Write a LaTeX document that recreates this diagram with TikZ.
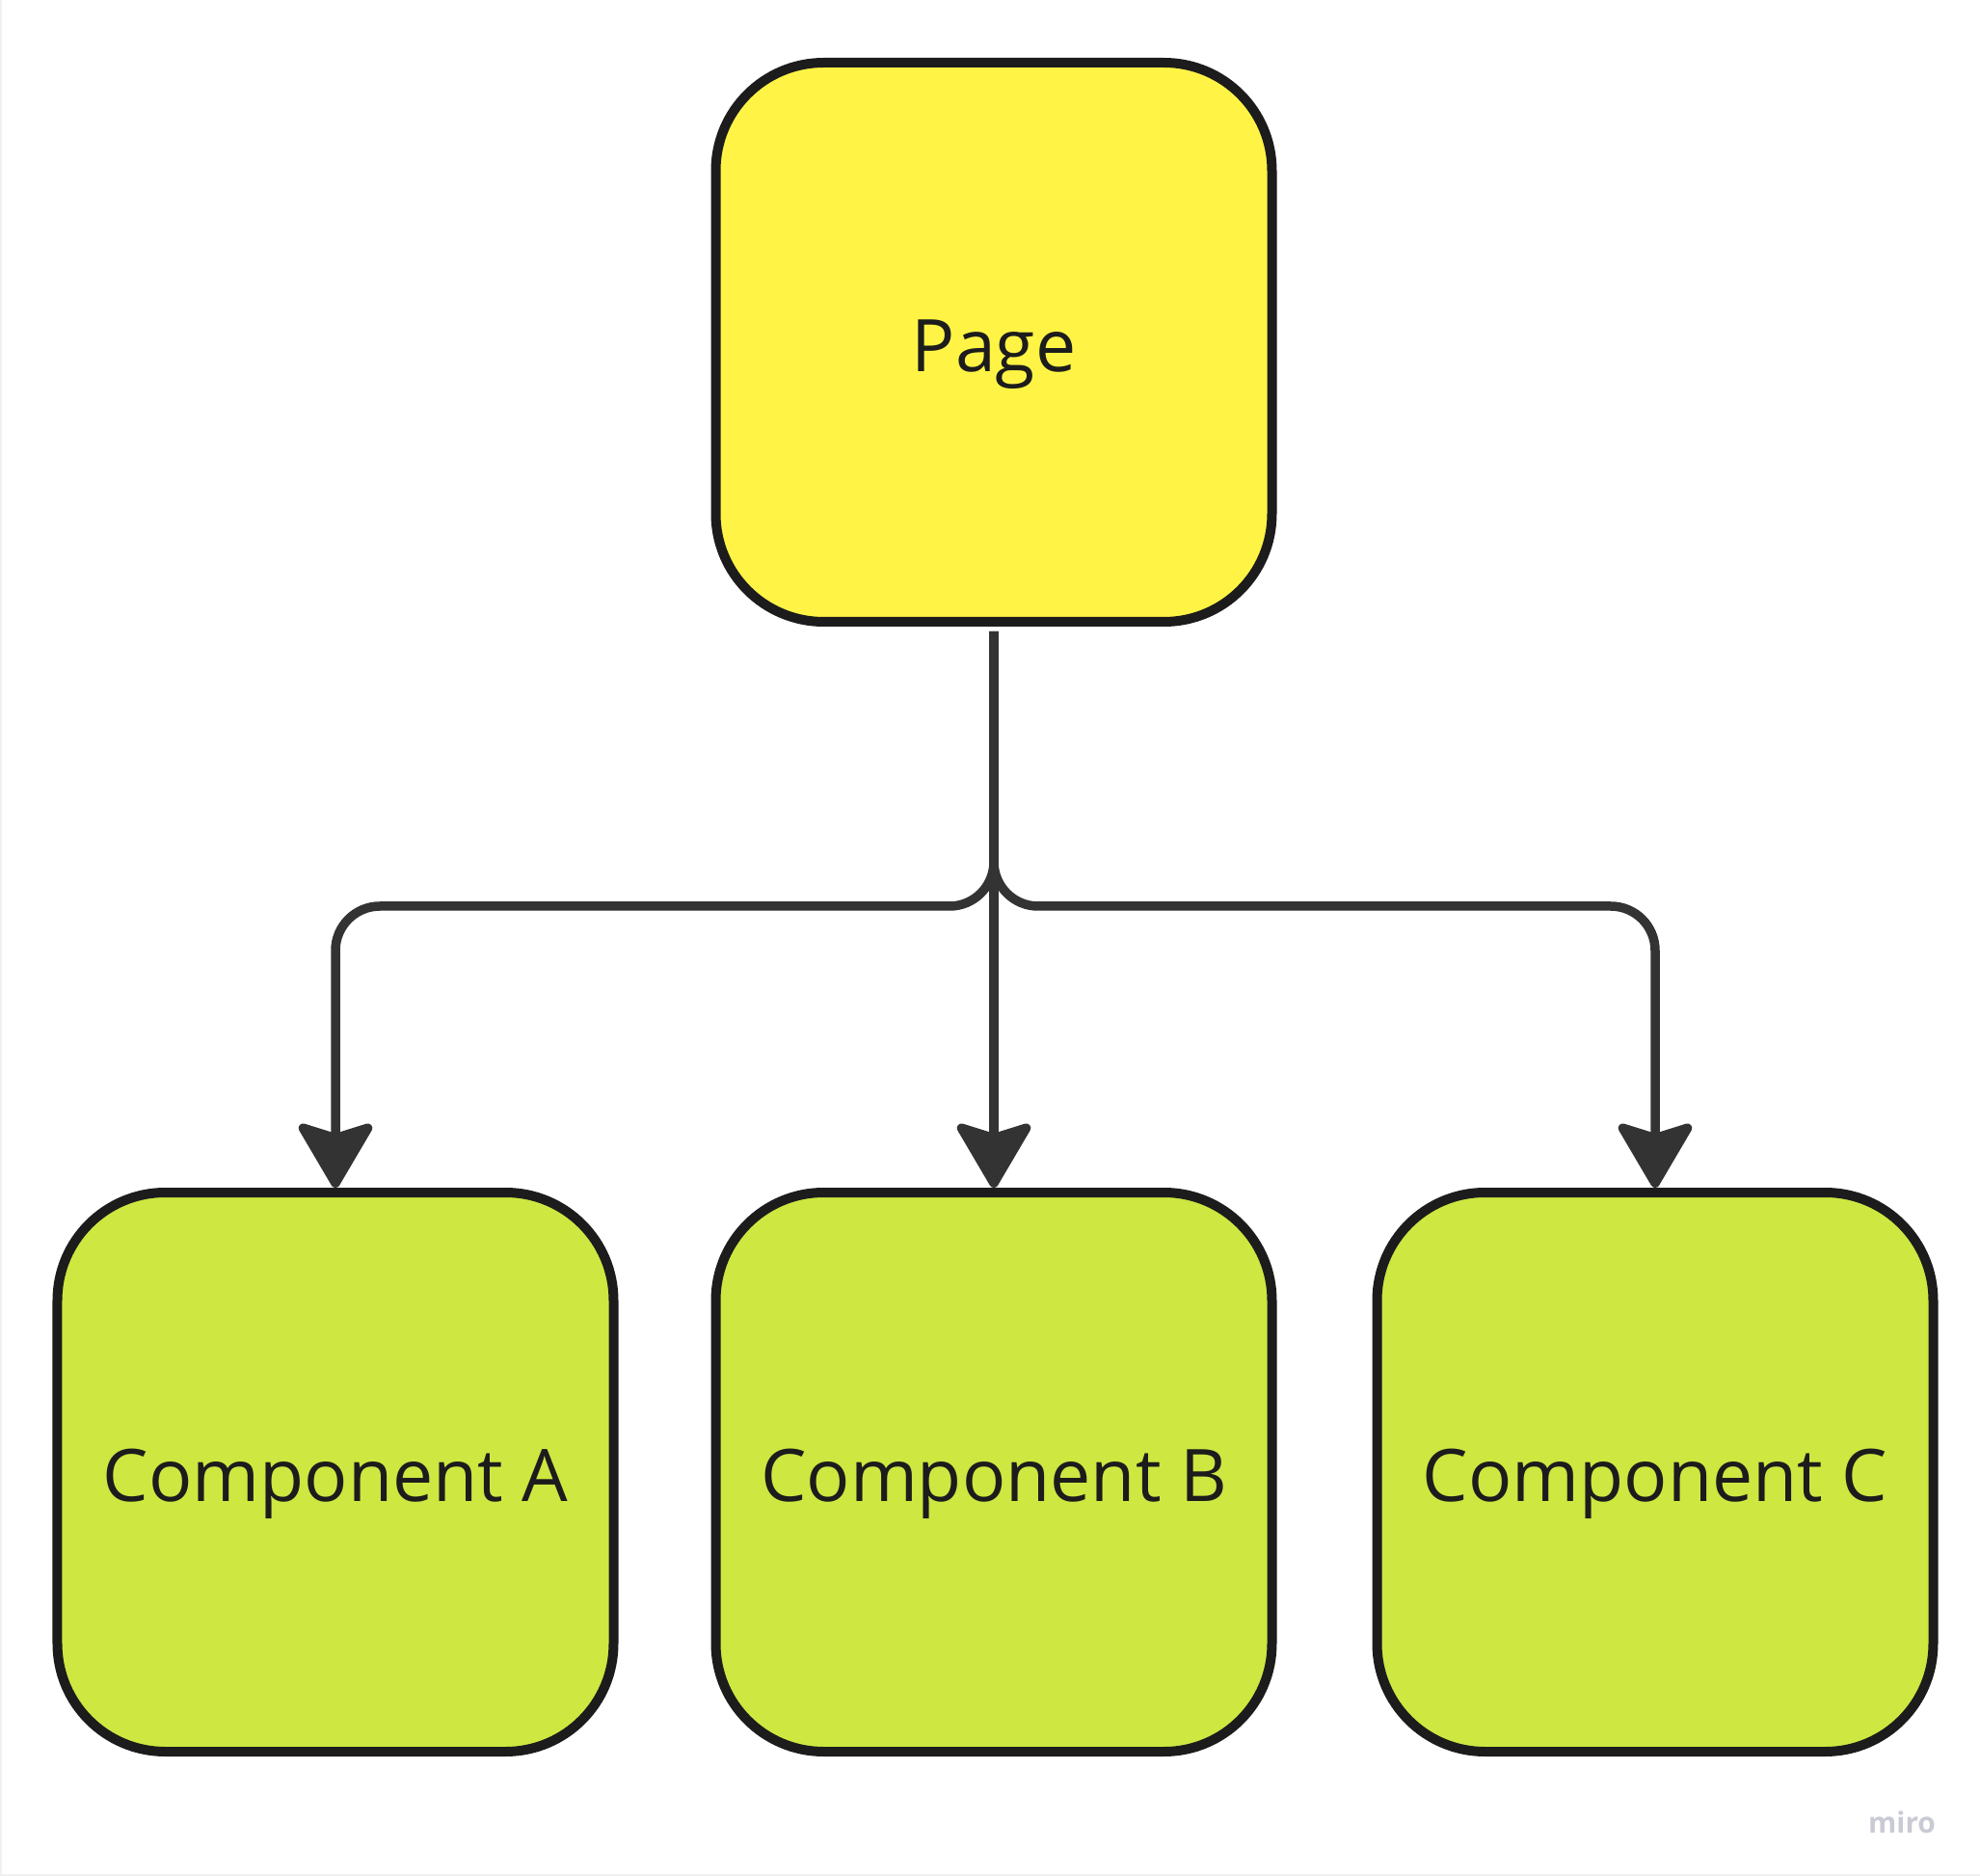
\documentclass[tikz,border=0pt]{standalone}
\usepackage{fontspec}
\setmainfont{Open Sans}
\usetikzlibrary{arrows.meta}
\usetikzlibrary{positioning}

\definecolor{pageyellow}{HTML}{FFF445}
\definecolor{complime}{HTML}{CEE741}
\definecolor{boxline}{HTML}{1C1C1C}
\definecolor{wireline}{HTML}{333333}
\definecolor{logogray}{HTML}{C9CAD3}

\begin{document}
\begin{tikzpicture}
			\tikzset{block/.style = {shape=rectangle, rounded corners=1.12cm, draw=boxline, line width=0.1cm,
					minimum width=5.77cm, minimum height=5.8cm, text=boxline,
					text height=0.8cm, text depth=0.19cm,
					font=\fontsize{21.4pt}{26pt}\selectfont}}
			\tikzset{edge/.style = {draw=wireline, line width=0.095cm, rounded corners=0.46cm,
					-{Stealth[length=0.74cm, width=0.86cm, inset=0.13cm, round]}}}
			% frame
			\useasboundingbox (0, 0) rectangle (20.54, -19.46);
			\draw[gray!12, line width=0.02cm] (0.01, 0) -- (0.01, -19.45) -- (20.54, -19.45);
			% blocks
			\node[block, fill=pageyellow] (page) at (10.31, -3.55) {Page};
			\node[block, fill=complime] (compA) at (3.48, -15.27) {Component A};
			\node[block, fill=complime] (compB) at (10.31, -15.27) {Component B};
			\node[block, fill=complime] (compC) at (17.17, -15.27) {Component C};
			\node[text=logogray, font=\fontsize{8.5pt}{10pt}\selectfont\bfseries] (logo) at (19.73, -18.90) {miro};
			% edges
			\coordinate (src) at (10.31, -6.55);
			\coordinate (bus) at (10.31, -9.40);
			\draw[edge] (src) -- (bus) -| (compA);
			\draw[edge] (src) -- (compB);
			\draw[edge] (src) -- (bus) -| (compC);
		\end{tikzpicture}
\end{document}
